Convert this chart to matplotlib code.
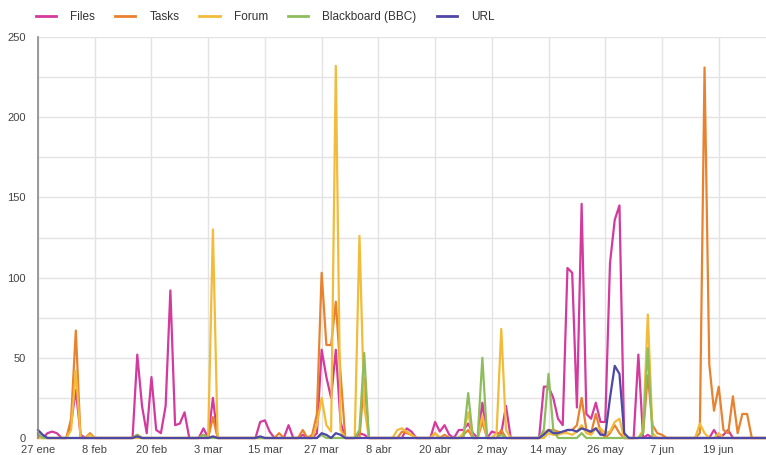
import matplotlib
matplotlib.use('Agg')
import matplotlib.pyplot as plt
import pandas as pd
from matplotlib.lines import Line2D
from matplotlib.ticker import MultipleLocator

plt.rcParams['font.family'] = ['Liberation Sans', 'DejaVu Sans']

start_date = '2020-01-27'

files = [
    2, 0, 3, 4, 3, 0, 0, 9, 30, 2,
    0, 0, 0, 0, 0, 0, 0, 0, 0, 0,
    0, 52, 20, 3, 38, 5, 3, 20, 92, 8,
    9, 16, 0, 0, 0, 6, 0, 25, 0, 0,
    0, 0, 0, 0, 0, 0, 0, 10, 11, 4,
    0, 0, 0, 8, 0, 0, 2, 0, 0, 3,
    55, 38, 25, 55, 10, 0, 0, 0, 3, 2,
    0, 0, 0, 0, 0, 0, 0, 0, 6, 4,
    0, 0, 0, 0, 10, 4, 8, 2, 0, 5,
    5, 9, 3, 0, 22, 0, 4, 3, 3, 20,
    0, 0, 0, 0, 0, 0, 0, 32, 32, 25,
    12, 8, 106, 103, 19, 146, 15, 12, 22, 10,
    10, 109, 136, 145, 0, 0, 0, 52, 0, 2,
    0, 0, 0, 0, 0, 0, 0, 0, 0, 0,
    0, 0, 0, 5, 0, 2, 5, 0, 0, 0,
    0, 0, 0, 0, 0,
]

tasks = [
    0, 0, 0, 0, 0, 0, 0, 12, 67, 0,
    0, 3, 0, 0, 0, 0, 0, 0, 0, 0,
    0, 2, 0, 0, 0, 0, 0, 0, 0, 0,
    0, 0, 0, 0, 0, 2, 0, 13, 0, 0,
    0, 0, 0, 0, 0, 0, 0, 0, 0, 0,
    0, 3, 0, 0, 0, 0, 5, 0, 2, 15,
    103, 58, 58, 85, 40, 0, 0, 0, 0, 37,
    0, 0, 0, 0, 0, 0, 0, 4, 3, 2,
    0, 0, 0, 0, 3, 0, 2, 0, 0, 0,
    2, 5, 0, 0, 10, 0, 0, 0, 5, 0,
    0, 0, 0, 0, 0, 0, 0, 3, 5, 5,
    4, 3, 5, 5, 8, 25, 5, 3, 15, 4,
    0, 3, 8, 3, 0, 0, 0, 0, 3, 39,
    8, 3, 2, 0, 0, 0, 0, 0, 0, 0,
    3, 231, 46, 17, 32, 5, 3, 26, 3, 15,
    15, 0, 0, 0, 0,
]

forum = [
    0, 0, 0, 0, 0, 0, 0, 5, 42, 0,
    0, 2, 0, 0, 0, 0, 0, 0, 0, 0,
    0, 0, 0, 0, 0, 0, 0, 0, 0, 0,
    0, 0, 0, 0, 0, 0, 0, 130, 0, 0,
    0, 0, 0, 0, 0, 0, 0, 0, 0, 0,
    0, 0, 0, 0, 0, 0, 0, 0, 0, 8,
    25, 8, 4, 232, 5, 0, 0, 0, 126, 20,
    0, 0, 0, 0, 0, 0, 5, 6, 4, 2,
    0, 0, 0, 0, 3, 0, 0, 0, 0, 0,
    3, 16, 0, 0, 14, 0, 0, 3, 68, 5,
    0, 0, 0, 0, 0, 0, 0, 0, 3, 2,
    2, 3, 3, 2, 4, 8, 3, 2, 6, 6,
    3, 4, 10, 12, 0, 0, 0, 0, 5, 77,
    3, 0, 0, 0, 0, 0, 0, 0, 0, 0,
    9, 3, 0, 0, 3, 0, 0, 0, 0, 0,
    0, 0, 0, 0, 0,
]

blackboard = [
    3, 0, 0, 0, 0, 0, 0, 0, 0, 0,
    0, 0, 0, 0, 0, 0, 0, 0, 0, 0,
    0, 2, 0, 0, 0, 0, 0, 0, 0, 0,
    0, 0, 0, 0, 0, 2, 0, 0, 0, 0,
    0, 0, 0, 0, 0, 0, 0, 0, 0, 0,
    0, 0, 0, 0, 0, 0, 0, 0, 0, 0,
    2, 0, 0, 0, 0, 0, 0, 0, 5, 53,
    0, 0, 0, 0, 0, 0, 0, 0, 0, 0,
    0, 0, 0, 0, 0, 0, 0, 0, 0, 0,
    0, 28, 0, 0, 50, 0, 0, 0, 2, 0,
    0, 0, 0, 0, 0, 0, 0, 5, 40, 5,
    0, 0, 0, 0, 0, 3, 0, 0, 0, 0,
    0, 0, 0, 0, 0, 0, 0, 0, 3, 56,
    0, 0, 0, 0, 0, 0, 0, 0, 0, 0,
    0, 0, 0, 0, 0, 0, 0, 0, 0, 0,
    0, 0, 0, 0, 0,
]

url = [
    5, 2, 0, 0, 0, 0, 0, 0, 0, 0,
    0, 0, 0, 0, 0, 0, 0, 0, 0, 0,
    0, 1, 0, 0, 0, 0, 0, 0, 0, 0,
    0, 0, 0, 0, 0, 0, 0, 1, 0, 0,
    0, 0, 0, 0, 0, 0, 0, 1, 0, 0,
    0, 0, 0, 0, 0, 0, 0, 0, 0, 0,
    3, 2, 0, 3, 2, 0, 0, 0, 0, 0,
    0, 0, 0, 0, 0, 0, 0, 0, 0, 0,
    0, 0, 0, 0, 0, 0, 0, 0, 0, 0,
    0, 0, 0, 0, 0, 0, 0, 0, 0, 0,
    0, 0, 0, 0, 0, 0, 0, 2, 5, 3,
    3, 4, 5, 5, 4, 6, 5, 4, 6, 2,
    2, 25, 45, 40, 3, 0, 0, 0, 0, 0,
    0, 0, 0, 0, 0, 0, 0, 0, 0, 0,
    0, 0, 0, 0, 0, 0, 0, 0, 0, 0,
    0, 0, 0, 0, 0,
]

series_names = ['Files', 'Tasks', 'Forum', 'Blackboard (BBC)', 'URL']
series_colors = ['#d4399e', '#e8822f', '#f2bb3a', '#8dbd5c', '#4d48a6']
tick_labels = ['27 ene', '8 feb', '20 feb', '3 mar', '15 mar', '27 mar', '8 abr',
               '20 abr', '2 may', '14 may', '26 may', '7 jun', '19 jun']

W, H = 766, 455
fig = plt.figure(figsize=(W / 100, H / 100), dpi=100)
ax = fig.add_axes([38 / W, 17 / H, 1 - 38 / W, 401 / H])

dates = pd.date_range(start_date, periods=len(files), freq='D')
all_series = [files, tasks, forum, blackboard, url]
handles = []
for vals, name, col in zip(all_series, series_names, series_colors):
    ln, = ax.plot(dates, vals, color=col, lw=1.6, label=name, clip_on=False,
                  solid_joinstyle='round')
    handles.append(Line2D([], [], color=col, lw=2.0))

ax.set_xlim(dates[0], dates[-1])
ax.set_ylim(0, 250)
ax.set_xticks(dates[::12][:len(tick_labels)])
ax.set_xticklabels(tick_labels)
ax.yaxis.set_major_locator(MultipleLocator(50))
ax.yaxis.set_minor_locator(MultipleLocator(25))
ax.grid(True, which='both', color='#e3e3e3', lw=1.0)
ax.set_axisbelow(True)
ax.tick_params(which='both', length=0, labelsize=8, colors='#444444')
ax.tick_params(axis='x', pad=5)
ax.tick_params(axis='y', pad=9)
for s in ['top', 'right', 'bottom']:
    ax.spines[s].set_visible(False)
ax.spines['left'].set_color('#8a8a8a')
ax.spines['left'].set_linewidth(1.2)

fig.legend(handles, series_names, loc='center left',
           bbox_to_anchor=(36 / W, 1 - 17 / H), ncol=5, frameon=False,
           fontsize=8.5, handlelength=1.7, handletextpad=1.2,
           columnspacing=1.7, borderpad=0, borderaxespad=0,
           labelcolor='#333333')

fig.savefig('out.png', dpi=100)
